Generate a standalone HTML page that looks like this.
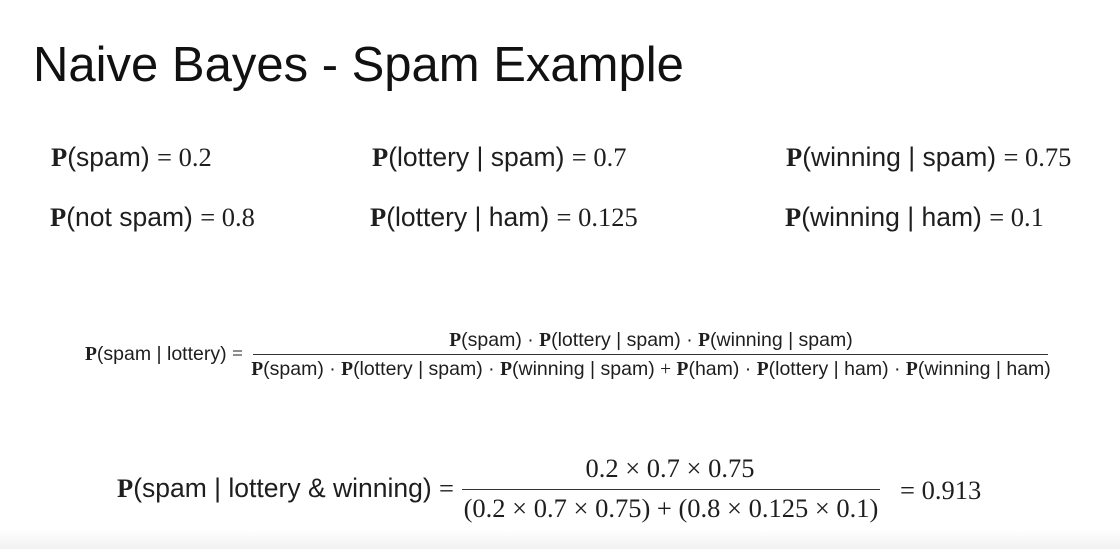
<!DOCTYPE html>
<html><head><meta charset="utf-8"><style>
body{margin:0;width:1120px;height:549px;background:#fff;position:relative;overflow:hidden;color:#1e1e1e}
.t{position:absolute;white-space:nowrap;font-family:"Liberation Sans",sans-serif}
.b{font-family:"Liberation Serif",serif;font-weight:bold}
.s{font-family:"Liberation Serif",serif}
.r22{font-size:26.5px;line-height:26px}
.r16{font-size:19.5px;line-height:20px}
.c{transform:translateX(-50%)}
.line{position:absolute;background:#333;height:1.3px}
</style></head><body>
<div class="t" style="left:33px;top:38px;font-size:49px;line-height:54px;color:#111">Naive Bayes - Spam Example</div>

<div class="t r22" style="left:51px;top:144px"><span class="b">P</span>(spam) <span class="s">= 0.2</span></div>
<div class="t r22" style="left:372px;top:144px"><span class="b">P</span>(lottery | spam) <span class="s">= 0.7</span></div>
<div class="t r22" style="left:786px;top:144px"><span class="b">P</span>(winning | spam) <span class="s">= 0.75</span></div>
<div class="t r22" style="left:50px;top:204px"><span class="b">P</span>(not spam) <span class="s">= 0.8</span></div>
<div class="t r22" style="left:370px;top:204px"><span class="b">P</span>(lottery | ham) <span class="s">= 0.125</span></div>
<div class="t r22" style="left:785px;top:204px"><span class="b">P</span>(winning | ham) <span class="s">= 0.1</span></div>

<div class="t r16" style="left:85px;top:344px"><span class="b">P</span>(spam | lottery) <span class="s">=</span></div>
<div class="t r16 c" style="left:651px;top:330px"><span class="b">P</span>(spam) · <span class="b">P</span>(lottery | spam) · <span class="b">P</span>(winning | spam)</div>
<div class="line" style="left:253px;top:354px;width:795px"></div>
<div class="t r16 c" style="left:651px;top:359px"><span class="b">P</span>(spam) · <span class="b">P</span>(lottery | spam) · <span class="b">P</span>(winning | spam) <span class="s">+</span> <span class="b">P</span>(ham) · <span class="b">P</span>(lottery | ham) · <span class="b">P</span>(winning | ham)</div>

<div class="t r22" style="left:117px;top:475px"><span class="b">P</span>(spam | lottery &amp; winning) <span class="s">=</span></div>
<div class="t r22 s c" style="left:670px;top:455px">0.2 × 0.7 × 0.75</div>
<div class="line" style="left:462px;top:489px;width:418px"></div>
<div class="t r22 s c" style="left:671px;top:495px">(0.2 × 0.7 × 0.75) + (0.8 × 0.125 × 0.1)</div>
<div class="t r22 s" style="left:900px;top:477px">= 0.913</div>

<div style="position:absolute;left:0;top:530px;width:1120px;height:19px;background:linear-gradient(#fff,#f1f1f1)"></div>
</body></html>
